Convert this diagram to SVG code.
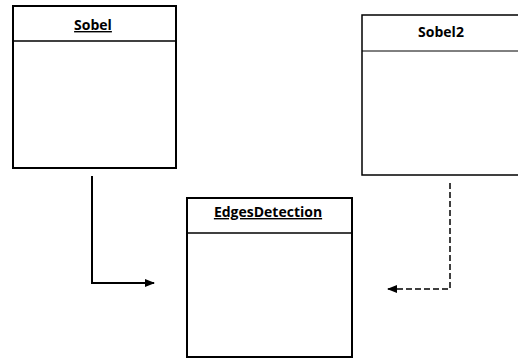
<svg xmlns="http://www.w3.org/2000/svg" width="518" height="359" viewBox="0 0 518 359">
<defs>
<style>
.box{fill:#fff;stroke:#000;stroke-width:2}
.div{stroke:#000;stroke-width:1.5}
.t{font-family:"Open Sans","Liberation Sans",sans-serif;font-weight:bold;font-size:14px;fill:#000;text-anchor:middle}
.u{text-decoration:underline}
.c{fill:none;stroke:#000;stroke-width:2}
.d{stroke-dasharray:6 3;stroke-width:1.5}
</style>
<marker id="ah" viewBox="0 0 10 10" refX="9" refY="5" markerWidth="10" markerHeight="10" markerUnits="userSpaceOnUse" orient="auto">
<path d="M0,1 L10,5 L0,9 Z" fill="#000"/>
</marker>
</defs>
<g id="Sobel">
<rect class="box" x="13" y="6" width="163" height="162"/>
<line class="div" x1="13" y1="41" x2="176" y2="41"/>
<text class="t u" x="93" y="30">Sobel</text>
</g>
<g id="Sobel2">
<rect class="box" x="362" y="15" width="160" height="160" style="stroke-width:1.5"/>
<line class="div" x1="362" y1="51" x2="518" y2="51" style="stroke-width:1"/>
<text class="t" x="441" y="37">Sobel2</text>
</g>
<g id="EdgesDetection">
<rect class="box" x="187" y="198" width="165" height="159"/>
<line class="div" x1="187" y1="233" x2="352" y2="233"/>
<text class="t u" x="268" y="217">EdgesDetection</text>
</g>
<g id="connectors">
<path class="c" d="M92,176 V283 H154" marker-end="url(#ah)"/>
<path class="c d" d="M450,183 V289 H388" marker-end="url(#ah)"/>
</g>
</svg>
